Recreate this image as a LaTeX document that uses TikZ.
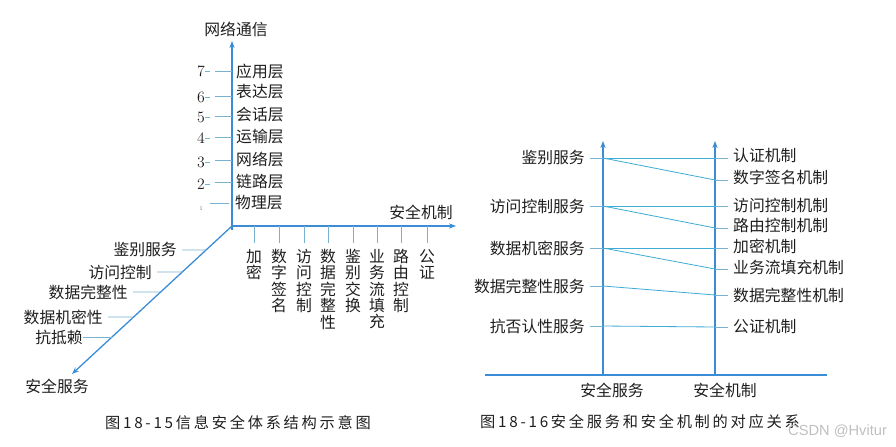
\documentclass[tikz,border=0pt]{standalone}
\usepackage{fontspec}
\newfontfamily\cjk{Noto Sans CJK SC}
\newfontfamily\capfont[LetterSpace=18]{Noto Sans CJK SC}
\newfontfamily\wmfont{Liberation Sans}
\usetikzlibrary{calc,arrows.meta}
\definecolor{axisblue}{RGB}{58,140,215}
\definecolor{linkblue}{RGB}{64,172,212}
\definecolor{tickblue}{RGB}{120,178,208}
\definecolor{txtgray}{RGB}{30,30,30}

\begin{document}
\begin{tikzpicture}[x=0.03cm,y=-0.03cm,>={Stealth[length=6pt,width=4.5pt]},
    axis/.style={line width=1.1pt, axisblue},
    link/.style={line width=0.7pt, linkblue},
    tick/.style={line width=0.7pt, tickblue},
    lbl/.style={font=\cjk\fontsize{13.5}{14}\selectfont, text=txtgray, inner sep=0pt},
    vlbl/.style={lbl, align=center, anchor=north},
    numlbl/.style={font=\fontsize{13.5}{14}\selectfont, text=txtgray, inner sep=0pt},
    caption/.style={font=\capfont\fontsize{13}{14}\selectfont, text=txtgray, inner sep=0pt}]
    \useasboundingbox (0,0) rectangle (896,446);

    % ---------- Fig 18-15: three axes ----------
    \coordinate (O) at (232,226);
    \coordinate (netTop) at (232,41);
    \coordinate (mechEnd) at (456,226);
    \coordinate (servEnd) at (72,374);
    \draw[axis,->] (232,230) -- (netTop);
    \draw[axis,->] (O) -- (mechEnd);
    \draw[axis,->] (O) -- (servEnd);
    \node[lbl] (netT) at (236,29) {网络通信};
    \node[lbl] (mechT) at (421,212) {安全机制};
    \node[lbl] (servT) at (57,386) {安全服务};

    % OSI layers on the vertical axis
    \foreach \n/\ny/\y/\ly/\t in {7/71/71/71/应用层, 6/97/96/92/表达层, 5/117/116/115/会话层,
        4/138/137/137/运输层, 3/162/160/159/网络层, 2/184/182/182/链路层} {
        \node[numlbl] (num\n) at (201,\ny) {\n};
        \draw[tick] (205,\ny) -- (210,\ny);
        \coordinate (lay\n) at (232,\y);
        \draw[tick] (215,\y) -- (lay\n);
        \node[lbl,anchor=west] (layl\n) at (236,\ly) {\t};
    }
    \node[numlbl,font=\tiny,text=gray] (num1) at (201,209) {1};
    \coordinate (lay1) at (229,203);
    \draw[tick] (210,203) -- (lay1);
    \node[lbl,anchor=west] (layl1) at (235,203) {物理层};

    % mechanisms on the horizontal axis
    \foreach \i/\x/\t in {1/254/加\\密, 2/279/数\\字\\签\\名, 3/304/访\\问\\控\\制,
        4/328/数\\据\\完\\整\\性, 5/353/鉴\\别\\交\\换, 6/377/业\\务\\流\\填\\充,
        7/401/路\\由\\控\\制, 8/427/公\\证} {
        \coordinate (mk\i) at (\x,226);
        \draw[tick] (mk\i) -- (\x,243);
        \node[vlbl] (mkl\i) at (\x,249) {\t};
    }

    % services on the diagonal axis
    \foreach \i/\x/\y/\t in {1/182/250/鉴别服务, 2/157/272/访问控制, 3/133/292/数据完整性,
        4/108/317/数据机密性, 5/88/337/抗抵赖} {
        \coordinate (sv\i) at ($(O)!{(\y-226)/148}!(servEnd)$);
        \draw[tick] (\x,\y) -- (sv\i);
        \node[lbl,anchor=east] (svl\i) at (\x-5,\y) {\t};
    }
    \draw[tick] (svl5.east) -- ++(7,0);

    \node[caption] (capA) at (238,423) {图18-15信息安全体系结构示意图};

    % ---------- Fig 18-16: services vs mechanisms ----------
    \coordinate (base) at (485,375);
    \coordinate (baseEnd) at (827,375);
    \coordinate (svcTop) at (603,141);
    \coordinate (mecTop) at (715,141);
    \draw[axis] (base) -- (baseEnd);
    \draw[axis,->] (603,375) -- (svcTop);
    \draw[axis,->] (715,375) -- (mecTop);
    \node[lbl] (svcT) at (612,390) {安全服务};
    \node[lbl] (mecT) at (725,390) {安全机制};

    % services
    \foreach \i/\y/\t in {1/158/鉴别服务, 2/206/访问控制服务, 3/248/数据机密服务,
        4/286/数据完整性服务, 5/326/抗否认性服务} {
        \coordinate (s\i) at (603,\y);
        \node[lbl,anchor=east] (sl\i) at (585,\y) {\t};
        \draw[tick] (590,\y) -- (s\i);
    }

    % mechanisms
    \foreach \i/\y/\ly/\t in {1/158/155/认证机制, 2/180/177/数字签名机制, 3/206/205/访问控制机制,
        4/228/225/路由控制机制, 5/248/246/加密机制, 6/269/267/业务流填充机制,
        7/295/295/数据完整性机制, 8/327/326/公证机制} {
        \coordinate (m\i) at (715,\y);
        \node[lbl,anchor=west] (ml\i) at (733,\ly) {\t};
        \draw[tick] (m\i) -- (728,\y);
    }

    % links
    \draw[link] (s1) -- (m1);
    \draw[link] (s1) -- (m2);
    \draw[link] (s2) -- (m3);
    \draw[link] (s2) -- (m4);
    \draw[link] (s3) -- (m5);
    \draw[link] (s3) -- (m6);
    \draw[link] (s4) -- (m7);
    \draw[link] (s5) -- (m8);

    \node[caption] (capB) at (640,422) {图18-16安全服务和安全机制的对应关系};
    \node[font=\wmfont\fontsize{12.5}{14}\selectfont, text=black!25, anchor=west, inner sep=0pt] (wm) at (788,431) {CSDN @Hvitur};
\end{tikzpicture}
\end{document}
